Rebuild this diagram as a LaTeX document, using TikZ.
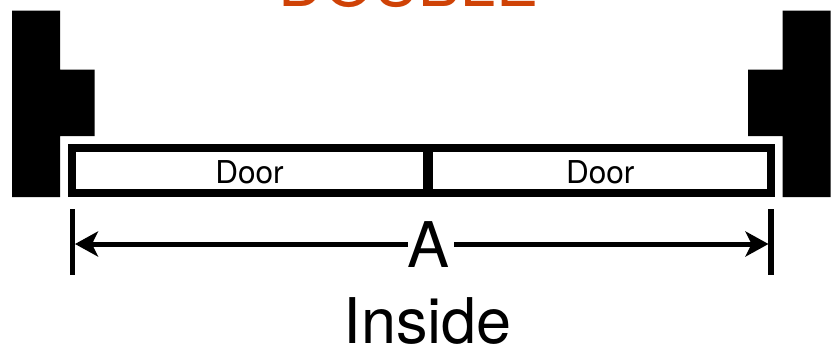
\documentclass[tikz,border=0pt]{standalone}
\usepackage{fontspec}
\setmainfont{TeX Gyre Heros}
\usetikzlibrary{arrows.meta}
\definecolor{titleorange}{HTML}{CF4206}
\tikzset{
  wall/.style={fill=black,draw=none},
  doorframe/.style={draw=black,line width=8pt,fill=white,line join=miter},
  doorlabel/.style={anchor=base,inner sep=0pt,font=\fontsize{31.5}{31.5}\selectfont},
  biglabel/.style={anchor=base,inner sep=0pt,font=\fontsize{63}{63}\selectfont},
  titlelabel/.style={biglabel,text=titleorange,font=\fontsize{63}{63}\selectfont},
  tick/.style={draw=black,line width=5.2pt},
  dim/.style={draw=black,line width=5pt,-{Stealth[length=23pt,width=25pt,inset=6pt]},shorten >=0pt}
}
\begin{document}
\begin{tikzpicture}[x=1pt,y=-1pt]
\useasboundingbox (0,0) rectangle (839,346);
\clip (0,0) rectangle (839,346);
% walls
\fill[wall] (12,10.5) -- (60,10.5) -- (60,69.5) -- (94.5,69.5) -- (94.5,136) -- (60,136) -- (60,197) -- (12,197) -- cycle;
\fill[wall] (830.7,10.5) -- (782.7,10.5) -- (782.7,69.5) -- (748,69.5) -- (748,136) -- (782.7,136) -- (782.7,197) -- (830.7,197) -- cycle;
% doors
\draw[doorframe] (72,148) rectangle (770.5,193);
\fill[black] (423,148) rectangle (433,193);
\node[doorlabel] (doorleft) at (249.5,183) {Door};
\node[doorlabel] (doorright) at (600.3,183) {Door};
% dimension
\coordinate (ltop) at (72.3,209);
\coordinate (lbot) at (72.3,274.5);
\coordinate (rtop) at (771,209);
\coordinate (rbot) at (771,274.5);
\coordinate (lend) at (75,244);
\coordinate (rend) at (768.5,244);
\coordinate (lgap) at (407.7,244);
\coordinate (rgap) at (454,244);
\draw[tick] (ltop) -- (lbot);
\draw[tick] (rtop) -- (rbot);
\draw[dim] (lgap) -- (lend);
\draw[dim] (rgap) -- (rend);
\node[biglabel] (dimA) at (429,267) {A};
\node[biglabel] (inside) at (427.7,343) {Inside};
\node[titlelabel] (title) at (408.5,6.8) {DOUBLE};
\end{tikzpicture}
\end{document}
